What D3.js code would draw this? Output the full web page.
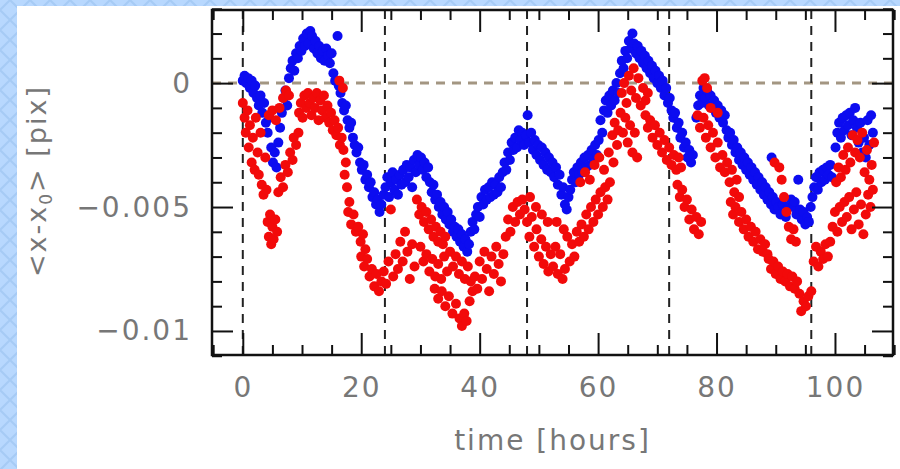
<!DOCTYPE html>
<html><head><meta charset="utf-8">
<script src="https://cdn.jsdelivr.net/npm/d3@7/dist/d3.min.js"></script>
<style>
html,body{margin:0;padding:0;background:#fff;}
svg{display:block;}
</style></head>
<body>
<svg id="chart" width="900" height="469"></svg>
<script>
// values in units of 1e-3 pix; time in hours
const bluePoints = [
[0,0.1],[0.3,0.3],[0.6,0.0],[0.9,0.2],[1.2,-0.2],[1.5,0.1],[1.8,-0.4],[2.1,-0.1],[2.4,-0.6],[2.7,-0.9],[3.0,-0.5],[3.3,-1.2],[3.6,-0.8],[3.9,-1.6],[4.2,-2.0],[4.5,-1.4],[4.8,-2.6],[5.1,-3.2],[5.4,-2.8],[5.7,-3.4],[6.0,-2.4],[6.3,-1.8],[6.6,-1.2],[6.9,-0.6],[7.2,-0.3],[7.5,-0.9],[7.8,0.2],[8.1,0.6],[8.4,0.9],[8.7,0.5],[9.0,1.2],[9.3,1.0],[9.6,1.5],[9.9,1.3],[10.2,1.8],[10.5,1.5],[10.8,2.0],[11.1,1.6],[11.4,2.1],[11.7,1.9],[12.0,1.4],[12.3,1.7],[12.6,1.2],[12.9,1.5],[13.2,1.0],[13.5,1.3],[13.8,0.9],[14.1,1.4],[14.4,1.1],[14.7,0.8],[15.0,1.2],[15.3,0.4],[15.6,0.1],[16.0,1.9],[16.2,-0.1],[16.5,-0.4],[16.8,-0.8],[17.1,-1.1],[17.4,-0.9],[17.7,-1.5],[18.0,-1.8],[18.3,-1.6],[18.6,-2.2],[18.9,-2.5],[19.2,-2.8],[19.5,-2.6],[19.8,-3.2],[20.1,-3.5],[20.4,-3.3],[20.7,-3.9],[21.0,-3.7],[21.3,-4.2],[21.6,-4.0],[21.9,-4.6],[22.2,-4.4],[22.5,-4.9],[22.8,-4.7],[23.1,-5.2],[23.4,-4.9],
[23.8,-4.5],[24.1,-4.2],[24.4,-3.8],[24.7,-4.6],[25.0,-4.0],[25.3,-3.6],[25.6,-4.3],[25.9,-3.9],[26.2,-4.5],[26.5,-3.7],[26.8,-4.1],[27.1,-3.5],[27.4,-4.0],[27.7,-3.3],[28.0,-3.8],[28.3,-3.4],[28.6,-4.2],[28.9,-3.1],[29.2,-3.6],[29.5,-2.9],[29.8,-3.3],[30.1,-3.0],[30.4,-3.5],[30.7,-3.2],[31.0,-3.8],[31.3,-3.4],[31.6,-4.0],
[31.9,-4.4],[32.2,-4.1],[32.5,-4.7],[32.8,-4.5],[33.1,-5.0],[33.4,-4.8],[33.7,-5.3],[34.0,-5.0],[34.3,-5.5],[34.6,-5.2],[34.9,-5.7],[35.2,-5.5],[35.5,-6.0],[35.8,-5.8],[36.1,-6.2],[36.4,-5.9],[36.7,-6.4],[37.0,-6.1],[37.3,-6.6],[37.6,-6.3],[37.9,-6.8],[38.2,-6.5],
[38.5,-6.0],[38.8,-5.6],[39.1,-5.9],[39.4,-5.3],[39.7,-5.0],[40.0,-5.4],[40.3,-4.6],[40.6,-4.9],[40.9,-4.3],[41.2,-4.7],[41.5,-4.2],[41.8,-4.6],[42.1,-4.0],[42.4,-4.5],[42.7,-4.1],[43.0,-4.4],[43.3,-3.8],[43.6,-4.2],[43.9,-3.6],[44.2,-3.2],[44.5,-3.5],[44.8,-2.8],[45.1,-3.1],[45.4,-2.4],[45.7,-2.7],[46.0,-2.2],[46.3,-2.6],[46.6,-1.9],[46.9,-2.3],[47.2,-2.0],[47.5,-2.5],[47.8,-2.1],[48.1,-1.3],[48.4,-2.4],[48.7,-2.0],[49.0,-2.7],[49.3,-2.3],[49.6,-2.9],[49.9,-2.5],[50.2,-3.1],[50.5,-2.6],[50.8,-3.3],[51.1,-2.8],[51.4,-3.5],[51.7,-3.0],[52.0,-3.6],
[52.3,-3.2],[52.6,-3.8],[52.9,-3.4],[53.2,-4.1],[53.5,-3.7],[53.8,-4.5],[54.1,-4.2],[54.4,-4.9],[54.7,-5.1],[55.0,-4.6],[55.3,-4.3],
[55.6,-3.9],[55.9,-3.6],[56.2,-4.0],[56.5,-3.4],[56.8,-3.7],[57.1,-3.2],[57.4,-3.6],[57.7,-3.0],[58.0,-3.4],[58.3,-2.9],[58.6,-3.3],[58.9,-2.7],[59.2,-3.1],[59.5,-2.5],[59.8,-2.9],[60.1,-2.3],[60.4,-1.5],[60.7,-2.0],[61.0,-1.1],[61.3,-0.7],[61.6,-1.2],[61.9,-0.5],[62.2,-0.9],[62.5,-0.3],[62.8,-0.7],[63.1,0.0],[63.4,-0.4],[63.7,0.4],[64.0,0.9],[64.3,0.6],[64.6,1.3],[64.9,1.0],[65.2,1.7],[65.5,1.4],[65.8,2.0],[66.1,1.6],[66.4,1.2],[66.7,1.5],[67.0,1.0],[67.3,1.3],[67.6,0.8],[67.9,1.1],[68.2,0.6],[68.5,0.9],[68.8,0.4],[69.1,0.7],[69.4,0.2],[69.7,0.5],[70.0,0.0],[70.3,0.3],[70.6,-0.2],[70.9,0.1],[71.2,-0.5],[71.5,-0.2],[71.8,-0.8],[72.1,-0.6],[72.4,-1.1],[72.7,-1.4],[73.0,-1.2],[73.3,-1.8],[73.6,-1.6],[73.9,-2.2],[74.2,-2.0],[74.5,-2.6],[74.8,-2.4],[75.1,-3.0],[75.4,-2.7],[75.7,-3.2],[76.0,-2.9],
[76.6,-1.4],[76.9,-0.9],[77.2,-0.5],[77.5,-0.8],[77.8,-0.2],[78.1,-0.6],[78.4,-0.3],[78.7,-0.9],[79.0,-0.5],[79.3,-1.0],[79.6,-0.7],[79.9,-1.2],[80.2,-0.9],[80.5,-1.4],[80.8,-1.1],
[81.1,-1.6],[81.4,-1.3],[81.7,-1.9],[82.0,-2.2],[82.3,-2.0],[82.6,-2.5],[82.9,-2.3],[83.2,-2.8],[83.5,-2.6],[83.8,-3.1],[84.1,-2.8],[84.4,-3.3],[84.7,-3.0],[85.0,-3.5],[85.3,-3.2],[85.6,-3.7],[85.9,-3.4],[86.2,-3.9],[86.5,-3.6],[86.8,-4.1],[87.1,-3.8],[87.4,-4.3],[87.7,-4.0],[88.0,-4.5],[88.3,-4.2],[88.6,-4.7],[88.9,-4.4],[89.3,-3.0],[89.2,-4.9],[89.5,-4.6],[89.8,-5.1],[90.1,-4.8],[90.4,-5.0],[90.8,-5.3],[91.2,-4.9],[91.7,-5.4],[92.2,-5.0],
[92.6,-4.7],[92.9,-5.0],[93.2,-4.8],[93.5,-5.3],[93.8,-3.9],[94.1,-5.1],[94.4,-5.5],[94.7,-5.2],[95.0,-5.7],[95.3,-5.4],[95.6,-5.6],[95.9,-5.0],[96.2,-4.6],[96.5,-4.2],[96.8,-3.8],[97.1,-4.3],[97.4,-3.6],[97.7,-4.0],[98.0,-3.5],[98.3,-3.9],[98.6,-3.4],[98.9,-3.7],[99.2,-3.3],[99.5,-3.8],
[100.1,-2.6],[100.4,-2.0],[100.7,-1.6],[101.0,-2.2],[101.3,-1.4],[101.6,-1.9],[101.9,-1.3],[102.2,-1.7],[102.5,-1.2],[102.8,-2.1],[103.1,-1.5],[103.4,-1.0],[103.7,-1.8],[104.0,-2.4],[104.3,-1.6],[104.6,-2.8],[104.9,-2.2],[105.2,-3.0],[105.5,-1.5],[105.8,-2.5],[106.1,-1.3],[106.4,-2.0]
];
const redPoints = [
[0.0,-0.8],[0.3,-1.4],[0.5,-2.0],[0.8,-1.1],[1.0,-2.6],[1.2,-1.7],[1.5,-3.2],[1.7,-2.2],[2.0,-3.5],[2.2,-1.4],[2.5,-2.8],[2.7,-3.7],[3.0,-2.0],[3.2,-4.1],[3.5,-4.5],[3.8,-3.0],[4.0,-4.3],
[4.2,-5.6],[4.4,-6.2],[4.6,-5.3],[4.8,-6.5],[5.0,-5.8],[5.2,-6.3],[5.5,-5.5],[5.8,-6.0],
[4.4,-1.3],[5.0,-1.1],[5.6,-1.5],[6.2,-1.0],[6.8,-0.6],[7.3,-0.3],[7.8,-0.5],
[6.0,-4.4],[6.4,-3.8],[6.8,-4.2],[7.2,-3.3],[7.6,-3.6],[8.0,-2.8],[8.4,-3.1],
[8.6,-2.2],[9.0,-2.5],[9.4,-2.0],
[9.5,-1.2],[9.8,-0.8],[10.1,-1.4],[10.4,-0.5],[10.7,-1.0],[11.0,-0.4],[11.3,-0.8],[11.6,-1.3],[11.9,-0.6],[12.2,-1.0],[12.5,-0.4],[12.8,-1.5],[13.1,-0.7],[13.4,-1.1],[13.7,-0.5],[14.0,-1.4],[14.3,-0.9],[14.6,-1.6],
[14.9,-1.2],[15.2,-1.9],[15.5,-1.5],[15.8,-2.1],[16.1,-1.8],[16.4,-2.5],[16.7,-2.2],[17.0,-2.7],
[16.3,0.1],[16.9,-0.2],
[17.2,-3.7],[17.6,-4.2],[18.0,-4.8],[17.4,-3.2],
[17.8,-5.2],[18.3,-5.7],[18.7,-5.3],[19.1,-6.0],[19.5,-5.8],[19.9,-6.4],[20.3,-6.1],[20.7,-6.7],
[20.0,-7.0],[20.5,-7.4],[21.0,-7.1],[21.4,-7.8],[21.8,-7.5],[22.2,-8.2],[22.6,-7.7],[23.0,-8.4],[23.4,-8.0],
[23.8,-7.6],[24.2,-8.1],[24.6,-7.2],[25.0,-5.1],[25.4,-7.8],[25.8,-6.9],[26.2,-7.5],[26.6,-6.4],[27.0,-7.2],[27.4,-6.0],[27.8,-6.8],[28.2,-7.9],[28.6,-6.5],[29.0,-7.4],
[29.4,-4.7],[29.8,-5.3],[30.2,-5.0],[30.6,-5.6],[31.0,-5.2],[31.4,-5.9],[31.8,-5.5],[32.2,-6.2],[32.6,-5.8],[33.0,-6.4],[33.4,-6.0],[33.8,-6.5],[34.2,-6.2],
[30.0,-6.6],[30.5,-7.2],[31.0,-6.9],[31.5,-7.6],[32.0,-7.1],[32.5,-7.8],[33.0,-7.3],[33.5,-7.9],[34.0,-7.0],[34.5,-7.6],[35.0,-6.8],[35.5,-7.4],[36.0,-7.0],[36.5,-7.7],[37.0,-7.2],[37.5,-7.9],[38.0,-7.4],[38.5,-8.0],
[32.4,-8.3],[33.0,-8.7],[33.6,-8.4],[34.2,-9.0],[34.8,-8.6],[35.4,-9.3],[36.0,-8.9],[36.6,-9.5],[37.0,-9.8],[37.4,-9.3],[37.8,-9.6],[38.3,-8.8],[38.8,-8.4],
[39.2,-7.8],[39.6,-8.3],[40.0,-7.2],[40.4,-7.9],[40.8,-6.8],[41.2,-7.5],[41.6,-8.4],[42.0,-7.0],[42.4,-7.7],[42.8,-6.6],[43.2,-7.3],[43.6,-8.0],[44.0,-6.9],
[44.4,-6.2],[44.8,-5.5],[45.2,-6.0],[45.6,-5.0],[46.0,-5.6],[46.4,-4.8],[46.8,-5.3],[47.2,-4.7],[47.6,-5.1],
[48.0,-5.6],[48.4,-6.2],[48.8,-5.4],[49.2,-6.6],[49.6,-5.9],[50.0,-7.0],[50.4,-6.3],[50.8,-7.3],[51.2,-6.6],[51.6,-7.6],[52.0,-6.9],[48.5,-4.6],[49.5,-5.0],[50.5,-5.3],[51.5,-5.6],
[52.4,-7.4],[52.8,-6.6],[53.2,-7.7],[53.6,-6.9],[54.0,-7.9],[54.4,-7.5],[54.8,-6.2],[55.2,-7.2],[55.6,-6.5],[56.0,-7.0],[56.4,-6.0],[53.0,-5.6],[54.2,-5.9],
[56.8,-6.4],[57.2,-5.7],[57.6,-6.2],[58.0,-5.3],[58.4,-5.9],[58.8,-5.0],[59.2,-5.6],[59.6,-4.7],[60.0,-5.3],[60.4,-4.4],[60.8,-5.0],[61.2,-4.2],[61.6,-4.7],[62.0,-4.0],
[57.0,-4.0],[57.8,-3.6],[58.6,-3.9],[59.4,-3.3],[60.2,-3.0],[61.0,-3.5],[61.8,-2.8],[62.6,-3.2],[63.2,-2.5],
[62.4,-2.1],[62.8,-1.6],[63.4,-1.9],[63.8,-1.2],[64.2,-2.0],[64.6,-1.4],[65.0,-2.4],[65.4,-1.7],[65.8,-2.8],[66.2,-2.0],[66.6,-3.0],
[64.0,-0.4],[64.4,0.0],[64.8,-0.8],[65.2,0.3],[65.6,-0.3],[66.0,0.6],[66.4,-0.6],[66.8,0.2],[67.2,-0.9],[67.6,-0.2],[68.0,-0.7],[68.4,-0.4],
[68.0,-1.3],[68.4,-1.8],[68.8,-1.5],[69.2,-2.2],[69.6,-1.7],[70.0,-2.5],[70.4,-2.0],[70.8,-2.8],[71.2,-2.3],[71.6,-3.1],[72.0,-2.6],[72.4,-3.3],[72.8,-2.9],[73.2,-3.5],[73.6,-3.0],[74.0,-3.4],
[73.4,-4.1],[73.8,-4.6],[74.2,-4.3],[74.6,-5.0],[75.0,-4.7],[75.4,-5.5],[75.8,-5.1],[76.2,-5.9],[76.6,-5.4],[77.0,-6.1],[77.4,-5.6],
[77.6,0.1],[78.0,0.2],[78.4,-0.2],
[76.8,-1.3],[77.2,-1.8],[77.8,-1.4],[78.2,-2.2],[78.6,-1.7],[79.0,-2.6],[79.4,-2.0],[79.8,-3.0],[80.2,-2.4],[80.6,-3.4],[80.2,-1.2],[79.0,-1.0],
[81.0,-2.9],[81.4,-3.6],[81.8,-3.2],[82.2,-4.0],[82.6,-3.5],[83.0,-4.4],[83.4,-3.9],[83.8,-4.6],
[82.4,-4.8],[82.8,-5.3],[83.2,-5.0],[83.8,-5.6],[84.2,-5.2],[84.6,-5.9],[85.0,-5.5],[85.4,-6.2],[85.8,-5.8],[86.2,-6.4],[86.6,-6.0],[87.0,-6.7],[87.4,-6.3],[87.8,-6.8],[88.2,-6.5],[88.6,-6.9],
[88.8,-7.1],[89.2,-7.5],[89.6,-7.2],[90.0,-7.7],[90.4,-7.4],[90.8,-7.9],[91.2,-7.6],[91.6,-8.0],[92.0,-7.7],[92.4,-8.2],[92.8,-7.8],[93.2,-8.3],[93.6,-8.0],
[94.0,-8.5],[94.3,-9.2],[94.7,-8.8],[95.1,-9.0],[95.5,-8.6],[96.0,-8.4],
[90.6,-3.4],[91.0,-3.9],[91.4,-4.6],[91.8,-5.2],[92.2,-5.8],[92.6,-6.3],[93.0,-5.9],[93.4,-6.4],[89.8,-3.2],
[96.4,-7.2],[96.8,-6.6],[97.2,-7.4],[97.6,-6.8],[98.0,-7.1],[98.4,-6.5],[98.8,-7.0],[99.2,-6.4],
[99.6,-5.8],[100.0,-5.2],[100.4,-6.0],[100.8,-5.0],[101.2,-5.6],[101.6,-4.8],[102.0,-5.4],[102.4,-4.6],[102.8,-5.9],[103.2,-5.1],[103.6,-4.4],[104.0,-5.7],[104.4,-4.9],[104.8,-6.1],[105.2,-5.3],[105.6,-4.5],[106.0,-5.0],[106.4,-4.3],
[100.2,-4.0],[100.6,-3.4],[101.0,-3.8],[101.4,-2.9],[101.8,-3.5],[102.2,-2.6],[102.6,-3.2],[103.0,-2.1],[103.4,-2.8],[103.8,-2.3],[104.2,-3.0],[104.6,-2.0],[105.0,-3.6],[105.4,-2.7],[105.8,-3.9],[106.2,-3.3],[106.6,-2.4]
];
const xTickValues = [0, 20, 40, 60, 80, 100];
const xTickLabels = ["0", "20", "40", "60", "80", "100"];
const xMinorTicks = [-5,5,10,15,25,30,35,45,50,55,65,70,75,85,90,95,105,110];
const yTickValues = [0, -5, -10];
const yTickLabels = ["0", "\u22120.005", "\u22120.01"];
const yMinorTicks = [3,2,1,-1,-2,-3,-4,-6,-7,-8,-9,-11];
const dayMarks = [0, 24, 48, 72, 96];
const xTitle = "time [hours]";

const svg = d3.select("#chart");
const W = 900, H = 469;
const L = 212, R = 893, T = 10, B = 355;

// background with lattice pattern
const defs = svg.append("defs");
const pat = defs.append("pattern").attr("id","lattice").attr("patternUnits","userSpaceOnUse")
  .attr("width",20).attr("height",20);
pat.append("rect").attr("width",20).attr("height",20).attr("fill","#b8d8fe");
pat.append("path").attr("d","M0,10 L10,0 L20,10 L10,20 Z").attr("fill","none").attr("stroke","#a6cbf5").attr("stroke-width",2);
svg.append("rect").attr("width",W).attr("height",H).attr("fill","url(#lattice)");
svg.append("rect").attr("x",17).attr("y",6).attr("width",W-17).attr("height",H-6).attr("fill","#ffffff");

const x = d3.scaleLinear().domain([-5.2, 109.8]).range([L, R]);
const y = d3.scaleLinear().domain([-10.97, 2.95]).range([B, T]);

defs.append("clipPath").attr("id","plotclip").append("rect")
  .attr("x",L).attr("y",T).attr("width",R-L).attr("height",B-T);

const g = svg.append("g").attr("clip-path","url(#plotclip)");

// horizontal zero line
g.append("line").attr("x1",L).attr("x2",R).attr("y1",y(0)).attr("y2",y(0))
  .attr("stroke","#a39682").attr("stroke-width",3).attr("stroke-dasharray","9,7");
// vertical day lines
g.selectAll("line.day").data(dayMarks).join("line").attr("class","day")
  .attr("x1",d=>x(d)).attr("x2",d=>x(d)).attr("y1",T).attr("y2",B)
  .attr("stroke","#222").attr("stroke-width",2).attr("stroke-dasharray","9,7");

// points
g.selectAll("circle.blue").data(bluePoints).join("circle").attr("class","blue")
  .attr("cx",d=>x(d[0])).attr("cy",d=>y(d[1])).attr("r",5).attr("fill","#0c0cf0");
g.selectAll("circle.red").data(redPoints).join("circle").attr("class","red")
  .attr("cx",d=>x(d[0])).attr("cy",d=>y(d[1])).attr("r",5).attr("fill","#f20a0a");

// axes
const font = "'DejaVu Sans', sans-serif";
function styleAxis(sel){
  sel.select(".domain").remove();
  sel.selectAll(".tick line").attr("stroke","#111").attr("stroke-width",2);
  sel.selectAll(".tick text").attr("fill","#777").style("font-family",font)
     .style("font-size","28px").style("letter-spacing","2px");
}
const xMajFmt = d=>xTickLabels[xTickValues.indexOf(d)];
const yMajFmt = d=>yTickLabels[yTickValues.indexOf(d)];

svg.append("g").attr("transform",`translate(0,${B})`)
  .call(d3.axisBottom(x).tickValues(xTickValues).tickSize(-22).tickPadding(22).tickFormat(xMajFmt)).call(styleAxis);
svg.append("g").attr("transform",`translate(0,${B})`)
  .call(d3.axisBottom(x).tickValues(xMinorTicks).tickSize(-10).tickFormat("")).call(styleAxis);
svg.append("g").attr("transform",`translate(0,${T})`)
  .call(d3.axisTop(x).tickValues(xTickValues).tickSize(-22).tickFormat("")).call(styleAxis);
svg.append("g").attr("transform",`translate(0,${T})`)
  .call(d3.axisTop(x).tickValues(xMinorTicks).tickSize(-10).tickFormat("")).call(styleAxis);

svg.append("g").attr("transform",`translate(${L},0)`)
  .call(d3.axisLeft(y).tickValues(yTickValues).tickSize(-21).tickPadding(20).tickFormat(yMajFmt)).call(styleAxis);
svg.append("g").attr("transform",`translate(${L},0)`)
  .call(d3.axisLeft(y).tickValues(yMinorTicks).tickSize(-10).tickFormat("")).call(styleAxis);
svg.append("g").attr("transform",`translate(${R},0)`)
  .call(d3.axisRight(y).tickValues(yTickValues).tickSize(-21).tickFormat("")).call(styleAxis);
svg.append("g").attr("transform",`translate(${R},0)`)
  .call(d3.axisRight(y).tickValues(yMinorTicks).tickSize(-10).tickFormat("")).call(styleAxis);

// frame
svg.append("rect").attr("x",L).attr("y",T).attr("width",R-L).attr("height",B-T)
  .attr("fill","none").attr("stroke","#111").attr("stroke-width",2.5);

// axis titles
svg.append("text").attr("x",(L+R)/2).attr("y",450).attr("text-anchor","middle")
  .attr("fill","#777").style("font-family",font).style("font-size","28px").style("letter-spacing","2px")
  .text(xTitle);

const yt = svg.append("text").attr("transform",`translate(46,181) rotate(-90)`).attr("text-anchor","middle")
  .attr("fill","#777").style("font-family",font).style("font-size","27px").style("letter-spacing","2px");
yt.append("tspan").text("<x-x");
yt.append("tspan").attr("dy",6).style("font-size","17px").text("0");
yt.append("tspan").attr("dy",-6).text("> [pix]");
</script>
</body></html>
